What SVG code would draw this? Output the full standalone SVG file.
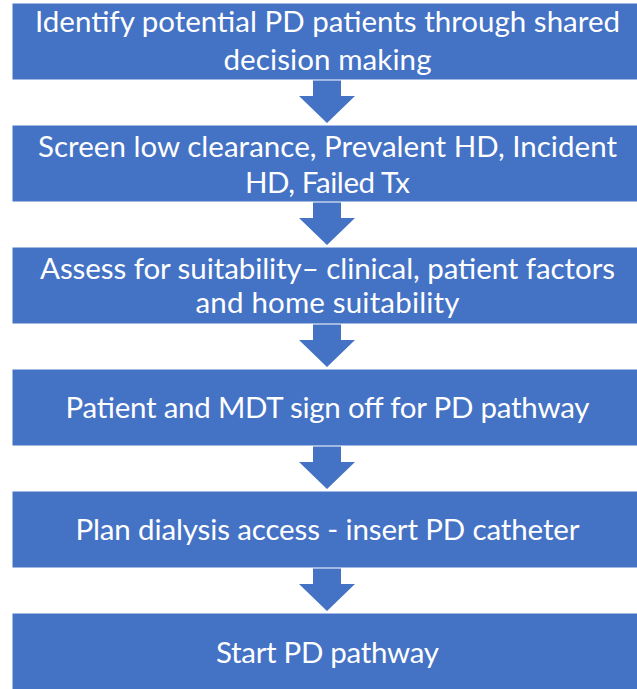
<svg xmlns="http://www.w3.org/2000/svg" width="637" height="689" viewBox="0 0 637 689">
<style>
.box{fill:#4472C4;stroke:#ffffff;stroke-width:1}
.t{font-family:Lato,"Liberation Sans",sans-serif;font-size:29.5px;fill:#ffffff;text-anchor:middle}
.arr{fill:#4472C4}
</style>
<rect width="637" height="689" fill="#ffffff"/>
<g id="connectors">
<polygon class="arr" points="313,80 341,80 341,96 355,96 327,123 299,96 313,96"/>
<polygon class="arr" points="313,202 341,202 341,218 355,218 327,245 299,218 313,218"/>
<polygon class="arr" points="313,324 341,324 341,340 355,340 327,367 299,340 313,340"/>
<polygon class="arr" points="313,446 341,446 341,462 355,462 327,489 299,462 313,462"/>
<polygon class="arr" points="313,568 341,568 341,584 355,584 327,611 299,584 313,584"/>
</g>
<g id="n1"><rect class="box" x="12" y="3" width="632" height="77"/>
<text class="t" x="327.5" y="32" textLength="585">Identify potential PD patients through shared</text>
<text class="t" x="327.5" y="70" textLength="208">decision making</text></g>
<g id="n2"><rect class="box" x="12" y="125" width="632" height="77"/>
<text class="t" x="327.5" y="157" textLength="579">Screen low clearance, Prevalent HD, Incident</text>
<text class="t" x="327.5" y="193" textLength="165">HD, Failed Tx</text></g>
<g id="n3"><rect class="box" x="12" y="247" width="632" height="77"/>
<text class="t" x="327.5" y="279" textLength="575">Assess for suitability– clinical, patient factors</text>
<text class="t" x="327.5" y="313" textLength="264">and home suitability</text></g>
<g id="n4"><rect class="box" x="12" y="369" width="632" height="77"/>
<text class="t" x="327.5" y="418" textLength="524">Patient and MDT sign off for PD pathway</text></g>
<g id="n5"><rect class="box" x="12" y="491" width="632" height="77"/>
<text class="t" x="327.5" y="540" textLength="504">Plan dialysis access - insert PD catheter</text></g>
<g id="n6"><rect class="box" x="12" y="613" width="632" height="77"/>
<text class="t" x="327.5" y="663" textLength="223">Start PD pathway</text></g>
</svg>
